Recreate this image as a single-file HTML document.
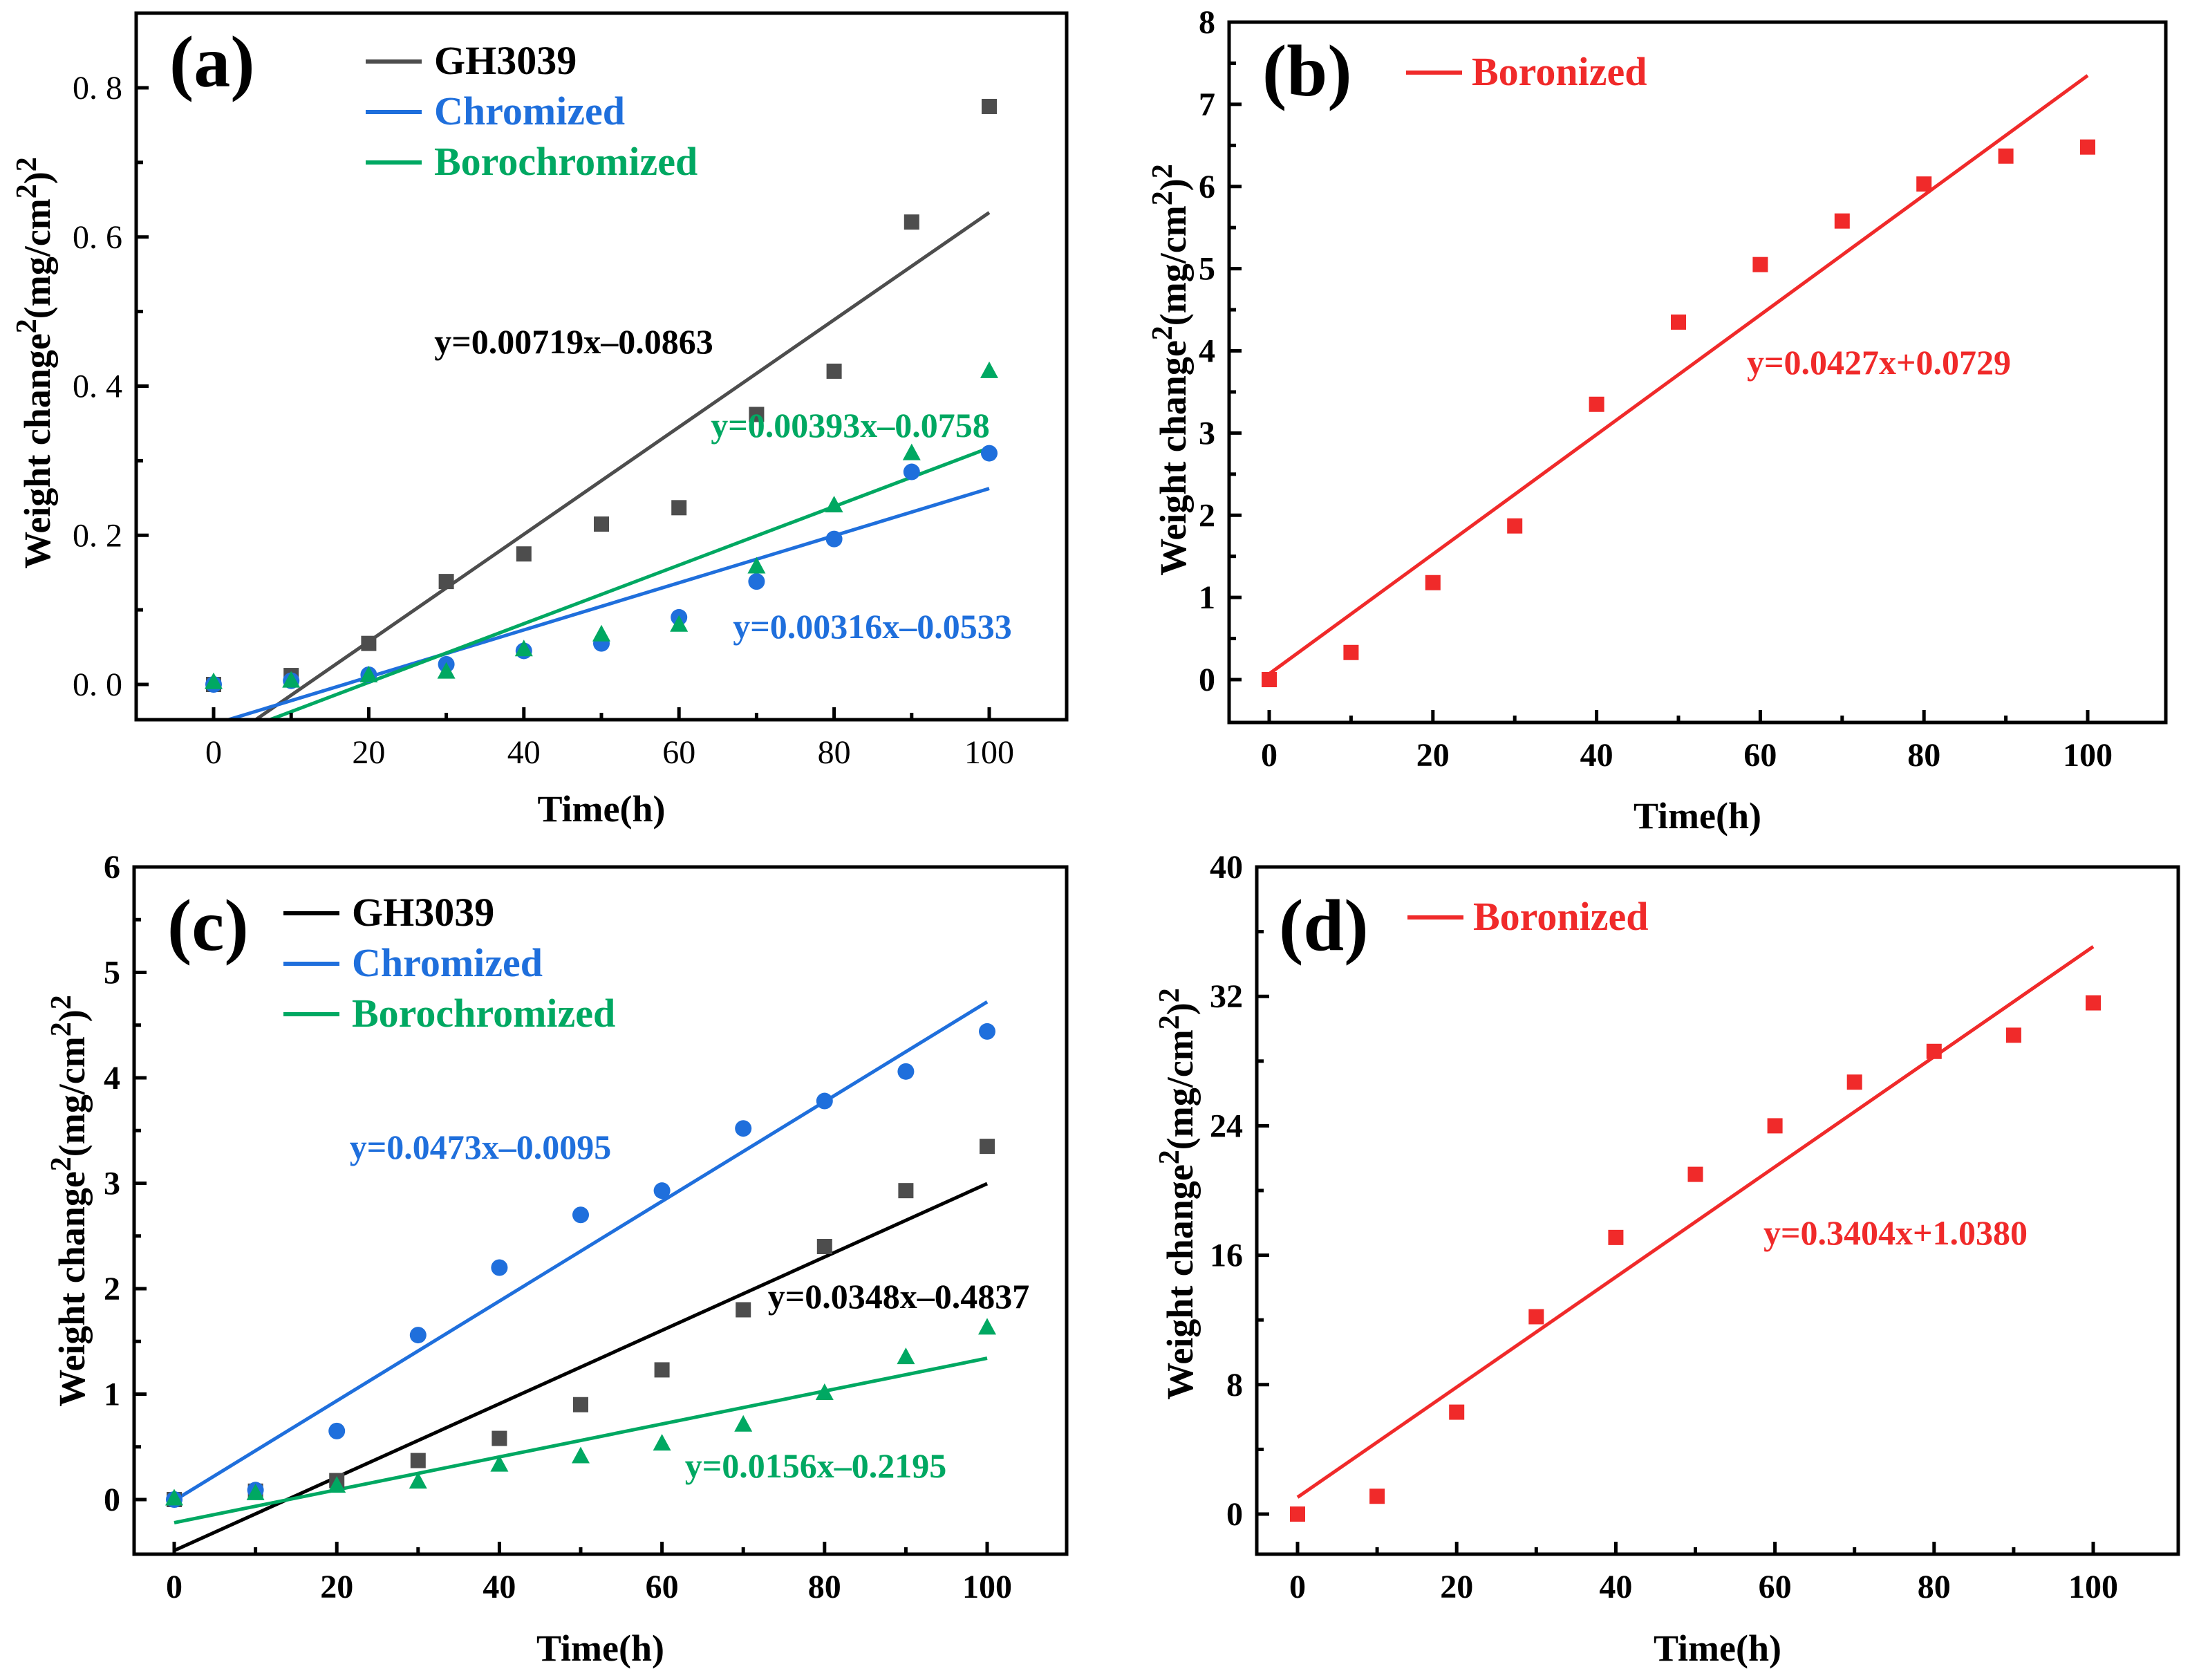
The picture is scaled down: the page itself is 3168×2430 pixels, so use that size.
<!DOCTYPE html>
<html><head><meta charset="utf-8"><style>
html,body{margin:0;padding:0;background:#fff}
svg{display:block}
text{font-family:"Liberation Serif",serif}
</style></head><body>
<svg id="fig" width="3168" height="2430" viewBox="0 0 3168 2430" xmlns="http://www.w3.org/2000/svg" font-family="'Liberation Serif', serif"></svg>
<script>
const xCats=[0,10,20,30,40,50,60,70,80,90,100];
// Panel a
const aGH=[0,0.012,0.055,0.138,0.175,0.215,0.237,0.362,0.42,0.62,0.775];
const aCr=[0,0.005,0.013,0.027,0.045,0.055,0.09,0.138,0.195,0.285,0.31];
const aBc=[0.003,0.005,0.012,0.017,0.047,0.067,0.08,0.158,0.24,0.31,0.42];
const aSlope=[0.00719,0.00316,0.00393];
const aIntercept=[-0.0863,-0.0533,-0.0758];
const aYTicks=["0. 0","0. 2","0. 4","0. 6","0. 8"];
// Panel b
const bBo=[0,0.33,1.18,1.87,3.35,4.35,5.05,5.58,6.03,6.37,6.48];
const bSlope=[0.0728];
const bIntercept=[0.07];
const bYTicks=["0","1","2","3","4","5","6","7","8"];
// Panel c
const cGH=[0,0.08,0.18,0.37,0.58,0.9,1.23,1.8,2.4,2.93,3.35];
const cCr=[0,0.09,0.65,1.56,2.2,2.7,2.93,3.52,3.78,4.06,4.44];
const cBc=[0.01,0.06,0.13,0.17,0.33,0.41,0.53,0.71,1.01,1.35,1.63];
const cSlope=[0.0348,0.0473,0.0156];
const cIntercept=[-0.4837,-0.0095,-0.2195];
const cYTicks=["0","1","2","3","4","5","6"];
// Panel d
const dBo=[0,1.1,6.3,12.2,17.1,21.0,24.0,26.7,28.6,29.6,31.6];
const dSlope=[0.3404];
const dIntercept=[1.038];
const dYTicks=["0","8","16","24","32","40"];
const xTicks=["0","20","40","60","80","100"];

const NS="http://www.w3.org/2000/svg";
const FF="'Liberation Serif', serif";
const svg=document.getElementById('fig');
function mk(tag,attrs,parent,txt){const e=document.createElementNS(NS,tag);for(const k in attrs)e.setAttribute(k,attrs[k]);if(tag==='text')e.setAttribute('font-family',FF);if(txt!==undefined)e.textContent=txt;(parent||svg).appendChild(e);return e;}

function panel(P){
  const g=mk('g',{});
  
  
  const sx=v=>P.x0+(v-0)*(P.x100-P.x0)/100;
  const sy=v=>P.y0+(v-P.yv0)*(P.yTop-P.y0)/(P.yvTop-P.yv0);
  const clip=mk('clipPath',{id:'clip'+P.id},g);
  mk('rect',{x:P.L,y:P.T,width:P.R-P.L,height:P.B-P.T},clip);
  P.series.forEach((s,i)=>{
    const l=mk('line',{x1:sx(0),y1:sy(P.intercept[i]),x2:sx(100),y2:sy(P.intercept[i]+P.slope[i]*100),stroke:s.lc,'stroke-width':5,'clip-path':'url(#clip'+P.id+')'},g);
    
    
  });
  P.series.forEach(s=>{
    s.data.forEach((v,j)=>{
      const cx=sx(xCats[j]),cy=sy(v);let m;
      if(s.m==='sq')m=mk('rect',{x:cx-11,y:cy-11,width:22,height:22,fill:s.pc},g);
      else if(s.m==='ci')m=mk('circle',{cx:cx,cy:cy,r:12,fill:s.pc},g);
      else m=mk('polygon',{points:`${cx},${cy-14} ${cx-13},${cy+10} ${cx+13},${cy+10}`,fill:s.pc},g);
      
      
    });
  });
  const f=mk('rect',{x:P.L,y:P.T,width:P.R-P.L,height:P.B-P.T,fill:'none',stroke:'#000','stroke-width':5},g);
  
  
  for(let v=0;v<=100;v+=10){
    const major=v%20===0;const X=sx(v);
    mk('line',{x1:X,y1:P.B,x2:X,y2:P.B-(major?18:10),stroke:'#000','stroke-width':5},g);
  }
  xTicks.forEach((t,i)=>{
    const tx=mk('text',{x:sx(Number(t)),y:P.B+63,'text-anchor':'middle','font-size':48,'font-weight':P.tickBold?'bold':'normal'},g,t);
    
    
  });
  P.yTicks.forEach((t,i)=>{
    const v=P.yv0+i*P.yStep;const Y=sy(v);
    mk('line',{x1:P.L,y1:Y,x2:P.L+18,y2:Y,stroke:'#000','stroke-width':5},g);
    if(i<P.yTicks.length-1){const Ym=sy(v+P.yStep/2);if(Ym>P.T+2)mk('line',{x1:P.L,y1:Ym,x2:P.L+10,y2:Ym,stroke:'#000','stroke-width':5},g);}
    const tx=mk('text',{x:P.L-20,y:Y+16,'text-anchor':'end','font-size':48,'font-weight':P.tickBold?'bold':'normal'},g,t);
    
    
  });
  const xt=mk('text',{x:(P.L+P.R)/2,y:P.xtY,'text-anchor':'middle','font-size':54,'font-weight':'bold'},g,'Time(h)');
  
  
  const yt=mk('text',{transform:`translate(${P.ytX},${P.ytY}) rotate(-90)`,'text-anchor':'middle','font-size':54,'font-weight':'bold'},g);
  
  
  mk('tspan',{},yt,'Weight change');
  mk('tspan',{dy:-20,'font-size':42},yt,'2');
  mk('tspan',{dy:20},yt,'(mg/cm');
  mk('tspan',{dy:-20,'font-size':42},yt,'2');
  mk('tspan',{dy:20},yt,')');
  mk('tspan',{dy:-20,'font-size':42},yt,'2');
  const pl=mk('text',{x:P.lab[0],y:P.lab[1],'font-size':106,'font-weight':'bold'},g,'('+P.id+')');
  
  
  P.series.forEach((s,i)=>{
    const y=P.leg[1]+i*73;
    mk('line',{x1:P.leg[0],y1:y,x2:P.leg[0]+81,y2:y,stroke:s.lc,'stroke-width':6},g);
    const t=mk('text',{x:P.leg[0]+(P.series.length>1?99:95),y:y+18,'font-size':58,'font-weight':'bold',fill:s.tc},g,s.name);
    
    
  });
  P.series.forEach((s,i)=>{
    const e=mk('text',{x:s.eq[0],y:s.eq[1]+16,'text-anchor':'middle','font-size':50,'font-weight':'bold',fill:s.tc},g,s.eqText);
    
    
  });
}
const GRAY='#4d4d4d',BLUE='#1f6fdc',GREEN='#00a862',RED='#f02a2a';
panel({id:'a',L:197,T:19,R:1543,B:1041,x0:309,x100:1431,y0:990,yv0:0,yTop:127,yvTop:0.8,yStep:0.2,yTicks:aYTicks,tickBold:false,
 slope:aSlope,intercept:aIntercept,xtY:1188,ytX:72,ytY:525,lab:[245,125],leg:[529,89],
 series:[{key:'gh3039',name:'GH3039',data:aGH,m:'sq',pc:GRAY,lc:GRAY,tc:'#000',eq:[830,495],eqText:'y=0.00719x\u20130.0863'},
         {key:'chromized',name:'Chromized',data:aCr,m:'ci',pc:BLUE,lc:BLUE,tc:BLUE,eq:[1262,907],eqText:'y=0.00316x\u20130.0533'},
         {key:'borochromized',name:'Borochromized',data:aBc,m:'tr',pc:GREEN,lc:GREEN,tc:GREEN,eq:[1230,616],eqText:'y=0.00393x\u20130.0758'}]});
panel({id:'b',L:1778,T:32,R:3133,B:1045,x0:1836,x100:3020,y0:983,yv0:0,yTop:32,yvTop:8,yStep:1,yTicks:bYTicks,tickBold:true,
 slope:bSlope,intercept:bIntercept,xtY:1198,ytX:1715,ytY:535,lab:[1826,138],leg:[2034,105],
 series:[{key:'boronized',name:'Boronized',data:bBo,m:'sq',pc:RED,lc:RED,tc:RED,eq:[2718,525],eqText:'y=0.0427x+0.0729'}]});
panel({id:'c',L:194,T:1254,R:1543,B:2248,x0:252,x100:1428,y0:2169,yv0:0,yTop:1254,yvTop:6,yStep:1,yTicks:cYTicks,tickBold:true,
 slope:cSlope,intercept:cIntercept,xtY:2402,ytX:122,ytY:1737,lab:[242,1374],leg:[410,1321],
 series:[{key:'gh3039',name:'GH3039',data:cGH,m:'sq',pc:GRAY,lc:'#000',tc:'#000',eq:[1300,1876],eqText:'y=0.0348x\u20130.4837'},
         {key:'chromized',name:'Chromized',data:cCr,m:'ci',pc:BLUE,lc:BLUE,tc:BLUE,eq:[695,1660],eqText:'y=0.0473x\u20130.0095'},
         {key:'borochromized',name:'Borochromized',data:cBc,m:'tr',pc:GREEN,lc:GREEN,tc:GREEN,eq:[1180,2121],eqText:'y=0.0156x\u20130.2195'}]});
panel({id:'d',L:1818,T:1254,R:3151,B:2248,x0:1877,x100:3028,y0:2190,yv0:0,yTop:1254,yvTop:40,yStep:8,yTicks:dYTicks,tickBold:true,
 slope:dSlope,intercept:dIntercept,xtY:2402,ytX:1725,ytY:1727,lab:[1850,1374],leg:[2036,1327],
 series:[{key:'boronized',name:'Boronized',data:dBo,m:'sq',pc:RED,lc:RED,tc:RED,eq:[2742,1784],eqText:'y=0.3404x+1.0380'}]});
</script>
</body></html>
